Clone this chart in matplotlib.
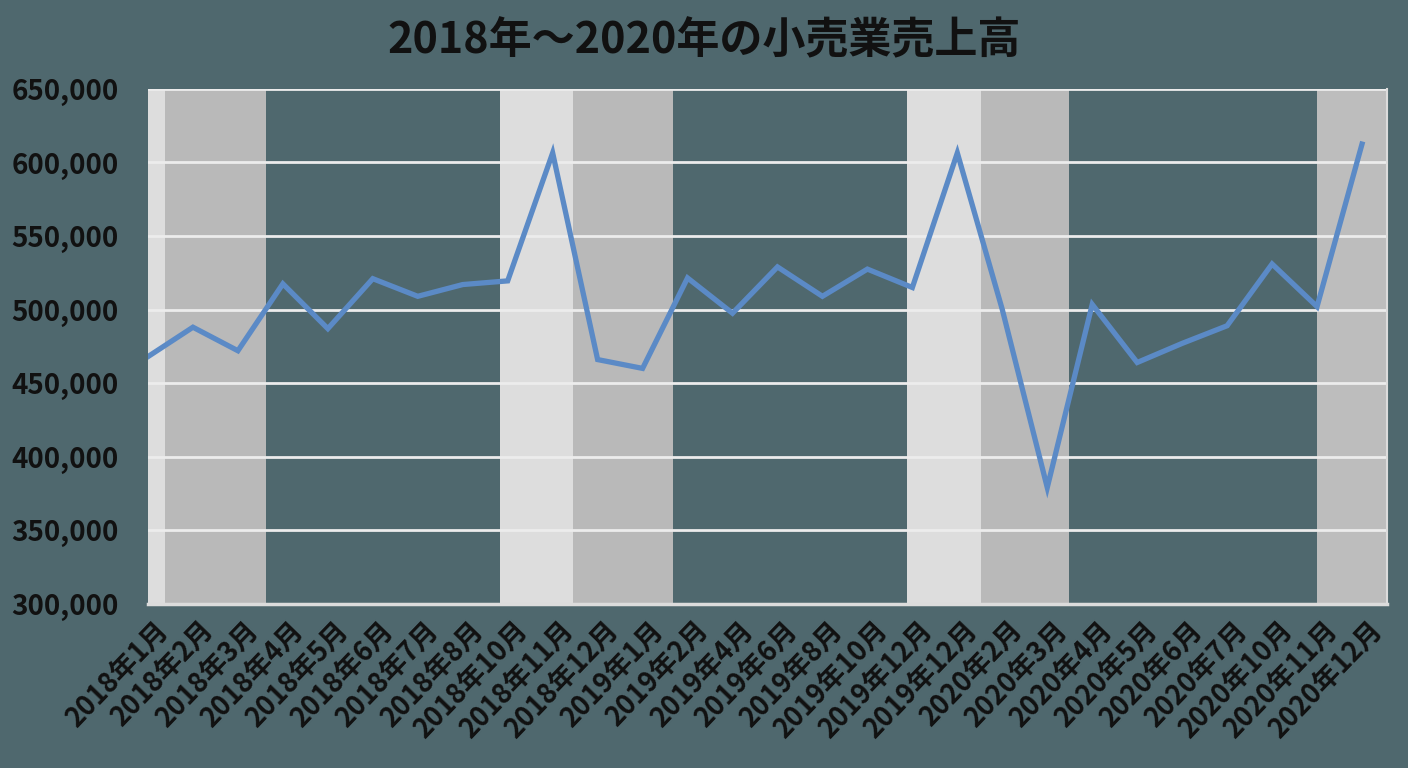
import matplotlib.pyplot as plt
import matplotlib.transforms as mtransforms
import numpy as np

plt.rcParams['font.family'] = ['Noto Sans CJK JP', 'DejaVu Sans']

# 月ラベル(元画像のまま)
months = ["2018年1月", "2018年2月", "2018年3月", "2018年4月", "2018年5月",
          "2018年6月", "2018年7月", "2018年8月", "2018年10月", "2018年11月",
          "2018年12月", "2019年1月", "2019年2月", "2019年4月", "2019年6月",
          "2019年8月", "2019年10月", "2019年12月", "2019年12月", "2020年2月",
          "2020年3月", "2020年4月", "2020年5月", "2020年6月", "2020年7月",
          "2020年10月", "2020年11月", "2020年12月"]
# 売上高
sales = [468000, 488000, 472000, 517500, 487000, 521000, 509000, 517000,
         519500, 606500, 466000, 460000, 521500, 497500, 529000, 509000,
         527500, 515000, 606500, 500000, 379000, 503500, 464000, 477000,
         489000, 531000, 502000, 612500]

# 背景の帯 (開始, 終了, 色)
bands = [(0.0, 0.37, '#dddddd'), (0.37, 2.62, '#b9b9b9'),
         (7.83, 9.46, '#dddddd'), (9.46, 11.67, '#b9b9b9'),
         (16.88, 18.52, '#dddddd'), (18.52, 20.48, '#b9b9b9'),
         (26.01, 27.55, '#bdbdbd')]

bg = '#4f686e'
fig = plt.figure(figsize=(14.08, 7.68), dpi=100, facecolor=bg)
ax = fig.add_axes([0.1051, 0.2139, 0.8798, 0.6703])
ax.set_facecolor(bg)

for x0, x1, c in bands:
    ax.axvspan(x0, x1, color=c, lw=0, zorder=0)

for v in range(350000, 650001, 50000):
    ax.axhline(v, color='#ececec', lw=2.0, zorder=1)

x = np.arange(len(sales))
ax.plot(x, sales, color='#5b8ac6', lw=3.8, zorder=3, solid_joinstyle='miter')

ax.set_xlim(0, 27.55)
ax.set_ylim(300000, 650000)
ax.set_yticks(range(300000, 650001, 50000))
ax.set_yticklabels([f"{v:,}" for v in range(300000, 650001, 50000)],
                   fontsize=20, fontweight='bold', color='#111111')
ax.set_xticks(x)
ax.set_xticklabels(months, rotation=46, ha='right', rotation_mode='anchor',
                   fontsize=19.5, fontweight='bold', color='#111111')
ax.tick_params(axis='both', length=0)
ax.tick_params(axis='y', pad=21)
ax.tick_params(axis='x', pad=9)

shift = mtransforms.ScaledTranslation(6 / 100, 0, fig.dpi_scale_trans)
for lab in ax.get_xticklabels():
    lab.set_transform(lab.get_transform() + shift)

for s in ['left', 'top']:
    ax.spines[s].set_visible(False)
ax.spines['bottom'].set_color('#dcdcdc')
ax.spines['bottom'].set_linewidth(2.5)
ax.spines['right'].set_color('#dcdcdc')
ax.spines['right'].set_linewidth(1.5)

fig.text(0.5, 0.948, "2018年～2020年の小売業売上高", ha='center', va='center',
         fontsize=31, fontweight='bold', color='#111111')

fig.savefig('out.png', dpi=100, facecolor=bg)
